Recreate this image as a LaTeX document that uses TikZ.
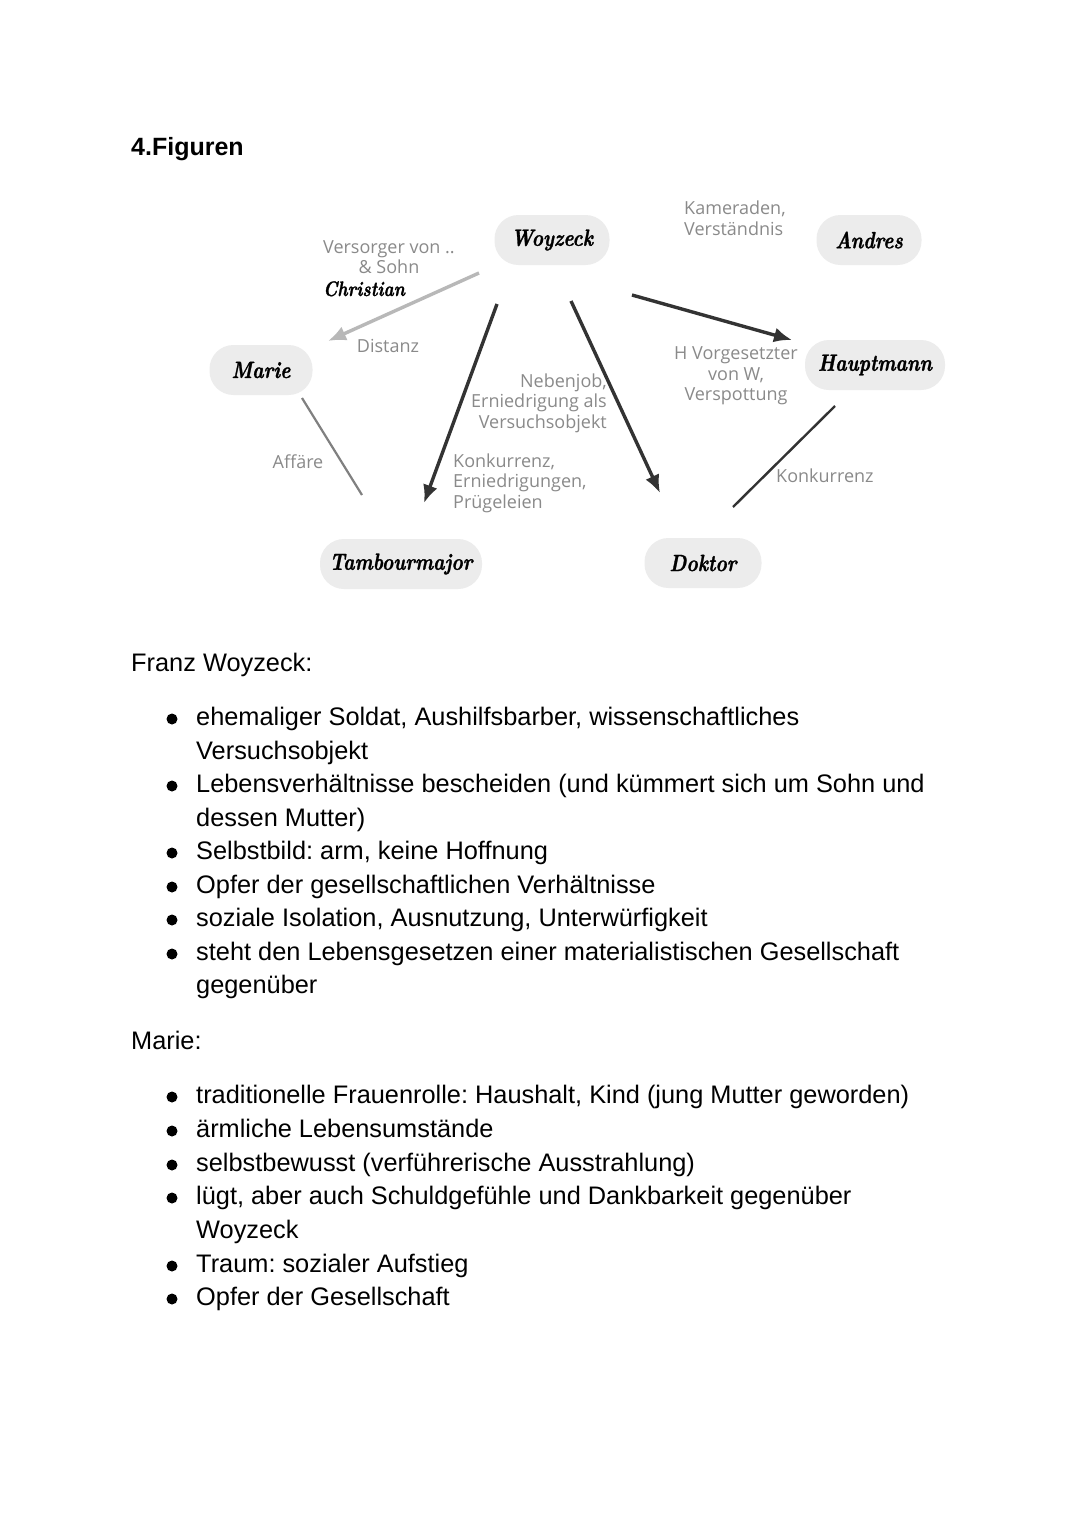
\documentclass[tikz,border=0pt]{standalone}
\usepackage{fontspec}
\setmainfont{Liberation Sans}
\newfontfamily\lblfont{Open Sans}
\newfontfamily\pillfont{lmroman10-bolditalic.otf}[FakeStretch=0.82,FakeBold=1.2]
\usetikzlibrary{arrows.meta}
\definecolor{pillgray}{HTML}{ECECEC}
\definecolor{lblgray}{HTML}{8A8A8A}
\definecolor{darkline}{HTML}{333333}
\definecolor{lightline}{HTML}{B8B8B8}
\definecolor{midline}{HTML}{808080}
\frenchspacing
\begin{document}
\begin{tikzpicture}[x=1pt,y=-1pt,
  pill/.style={fill=pillgray, rounded corners=24pt, minimum height=50pt, inner sep=0pt,
    font=\pillfont\fontsize{23.5}{27}\selectfont},
  lbl/.style={font=\lblfont\fontsize{18}{20.5}\selectfont, text=lblgray, inner sep=0pt},
  body/.style={font=\fontsize{25.35}{33.6}\selectfont, anchor=base west, inner sep=0pt},
  dot/.style={circle, fill=black, minimum size=11pt, inner sep=0pt},
  darr/.style={draw=darkline, line width=3.4pt, -{Latex[length=18pt,width=15pt]}},
  larr/.style={draw=lightline, line width=3.4pt, -{Latex[length=18pt,width=15pt]}},
]
\useasboundingbox (0,0) rectangle (1080,1526);
\fill[white] (0,0) rectangle (1080,1526);

% heading
\node[anchor=base west, inner sep=0pt, font=\bfseries\fontsize{25}{30}\selectfont] (head) at (131,155) {4.Figuren};

% pills
\node[pill, minimum width=115pt] (woy) at (552,240) {Woyzeck};
\node[pill, minimum width=105pt] (andres) at (869,240) {Andres};
\node[pill, minimum width=103pt] (marie) at (261,370) {Marie};
\node[pill, minimum width=140pt] (haupt) at (875,365) {Hauptmann};
\node[pill, minimum width=162pt] (tamb) at (401,564) {Tambourmajor};
\node[pill, minimum width=117pt] (dok) at (703,563) {Doktor};

% connector end points
\coordinate (a1s) at (479,273); \coordinate (a1e) at (328,341);
\coordinate (a2s) at (497,304); \coordinate (a2e) at (424,503);
\coordinate (a3s) at (571,301); \coordinate (a3e) at (660,493);
\coordinate (a4s) at (632,295); \coordinate (a4e) at (792,340);
\coordinate (l1s) at (302,398); \coordinate (l1e) at (362,495);
\coordinate (l2s) at (835,406); \coordinate (l2e) at (733,507);

\draw[larr] (a1s) -- (a1e);
\draw[darr] (a2s) -- (a2e);
\draw[darr] (a3s) -- (a3e);
\draw[darr] (a4s) -- (a4e);
\draw[draw=midline, line width=2.2pt] (l1s) -- (l1e);
\draw[draw=darkline, line width=2.4pt] (l2s) -- (l2e);

% labels
\node[lbl, align=center] (versorger) at (389,257) {Versorger von ..\\\& Sohn};
\node[inner sep=0pt, anchor=base west, font=\pillfont\fontsize{21}{25}\selectfont] (christ) at (323,296) {Christian};
\node[lbl] (distanz) at (388,346) {Distanz};
\node[lbl, align=right, anchor=east] (neben) at (607,403) {Nebenjob,\\Erniedrigung als\\Versuchsobjekt};
\node[lbl, align=left, anchor=west] (kam) at (684,218) {Kameraden,\\Verständnis};
\node[lbl, align=center] (vorg) at (736,376) {H Vorgesetzter\\von W,\\Verspottung};
\node[lbl] (affaere) at (298,462) {Affäre};
\node[lbl, align=left, anchor=west] (konk1) at (453,483) {Konkurrenz,\\Erniedrigungen,\\Prügeleien};
\node[lbl, anchor=west] (konk2) at (776,476) {Konkurrenz};

% body text
\node[body] (franz) at (131,671) {Franz Woyzeck:};
\node[body] (w1) at (196,725) {ehemaliger Soldat, Aushilfsbarber, wissenschaftliches};
\node[body] (w1b) at (196,759) {Versuchsobjekt};
\node[body] (w2) at (196,792) {Lebensverhältnisse bescheiden (und kümmert sich um Sohn und};
\node[body] (w2b) at (196,826) {dessen Mutter)};
\node[body] (w3) at (196,859) {Selbstbild: arm, keine Hoffnung};
\node[body] (w4) at (196,893) {Opfer der gesellschaftlichen Verhältnisse};
\node[body] (w5) at (196,926) {soziale Isolation, Ausnutzung, Unterwürfigkeit};
\node[body] (w6) at (196,960) {steht den Lebensgesetzen einer materialistischen Gesellschaft};
\node[body] (w6b) at (196,993) {gegenüber};
\node[body] (mariehead) at (131,1049) {Marie:};
\node[body] (m1) at (196,1103) {traditionelle Frauenrolle: Haushalt, Kind (jung Mutter geworden)};
\node[body] (m2) at (196,1137) {ärmliche Lebensumstände};
\node[body] (m3) at (196,1171) {selbstbewusst (verführerische Ausstrahlung)};
\node[body] (m4) at (196,1204) {lügt, aber auch Schuldgefühle und Dankbarkeit gegenüber};
\node[body] (m4b) at (196,1238) {Woyzeck};
\node[body] (m5) at (196,1272) {Traum: sozialer Aufstieg};
\node[body] (m6) at (196,1305) {Opfer der Gesellschaft};

% bullets
\foreach \yy [count=\i] in {725,792,859,893,926,960,1103,1137,1171,1204,1272,1305}
  \node[dot] (bul\i) at (172,\yy-6) {};
\end{tikzpicture}
\end{document}
